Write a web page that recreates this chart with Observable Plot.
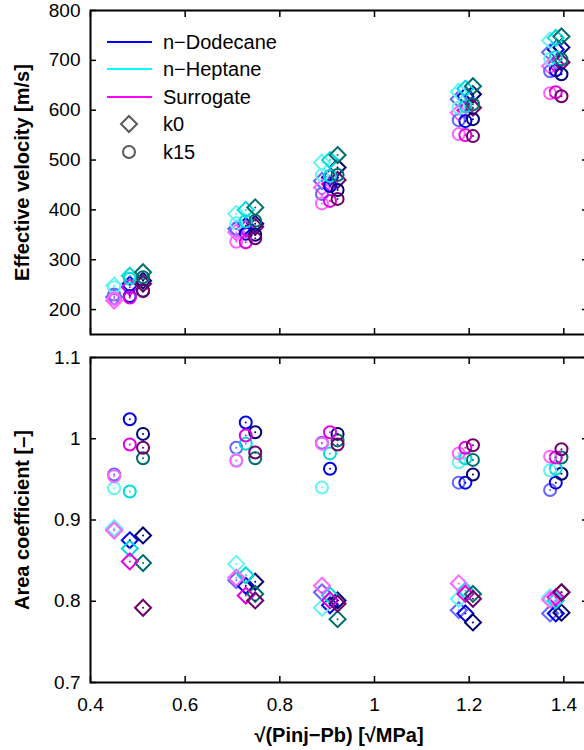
<!DOCTYPE html>
<html><head><meta charset="utf-8">
<script src="https://cdn.jsdelivr.net/npm/d3@7"></script>
<script src="https://cdn.jsdelivr.net/npm/@observablehq/plot@0.6"></script>
<style>
body{margin:0;background:#fff;}
#wrap{position:relative;width:584px;height:750px;overflow:hidden;font-family:"Liberation Sans",Arial,sans-serif;background:#fff;}
#wrap svg{overflow:visible;}
g[aria-label="y-axis label"] text, g[aria-label="x-axis label"] text{font-weight:bold;font-size:20px;}
#legend{position:absolute;left:0;top:0;}
</style></head><body><div id="wrap"></div>
<script>
// ---- data ----
const fuels = ["n-Dodecane", "n-Heptane", "Surrogate"];
const legendLabels = ["n\u2212Dodecane", "n\u2212Heptane", "Surrogate"];
const legendColors = ["#0000ff", "#00ffff", "#ff00ff"];
const markerLabels = ["k0", "k15"];
// shade colours: light, mid, dark
const dodecaneShades = ["#6464ff", "#0000e8", "#000078"];
const heptaneShades = ["#64f4f4", "#00dcdc", "#006e6e"];
const surrogateShades = ["#ff64ff", "#e400e4", "#6e006e"];
// x per pressure group, per shade (light, mid, dark)
const xGroups = [
  [0.450, 0.483, 0.511],
  [0.708, 0.728, 0.748],
  [0.889, 0.906, 0.922],
  [1.178, 1.192, 1.208],
  [1.371, 1.383, 1.395]
];
// Effective velocity [m/s]; rows = shades (light, mid, dark), cols = groups
const velK0Dodecane = [[225, 362, 458, 622, 716], [250, 368, 465, 628, 722], [258, 372, 485, 632, 726]];
const velK0Heptane = [[248, 392, 495, 637, 740], [268, 400, 500, 643, 745], [275, 405, 510, 648, 748]];
const velK0Surrogate = [[218, 355, 445, 595, 688], [245, 362, 452, 600, 692], [252, 366, 460, 605, 696]];
const velK15Dodecane = [[230, 362, 432, 580, 678], [227, 352, 448, 578, 680], [238, 350, 440, 582, 672]];
const velK15Heptane = [[245, 373, 470, 605, 703], [262, 377, 468, 608, 706], [265, 378, 470, 612, 702]];
const velK15Surrogate = [[222, 336, 413, 552, 634], [224, 335, 418, 550, 636], [237, 343, 422, 548, 628]];
// Area coefficient [-]
const acK0Dodecane = [[0.889, 0.826, 0.811, 0.789, 0.785], [0.875, 0.819, 0.795, 0.785, 0.785], [0.881, 0.824, 0.801, 0.774, 0.786]];
const acK0Heptane = [[0.890, 0.846, 0.792, 0.803, 0.805], [0.865, 0.832, 0.807, 0.813, 0.801], [0.847, 0.809, 0.778, 0.809, 0.811]];
const acK0Surrogate = [[0.887, 0.829, 0.819, 0.822, 0.802], [0.849, 0.807, 0.801, 0.809, 0.805], [0.792, 0.801, 0.797, 0.803, 0.811]];
const acK15Dodecane = [[0.956, 0.989, 0.995, 0.946, 0.937], [1.024, 1.020, 0.963, 0.946, 0.946], [1.006, 1.008, 1.006, 0.956, 0.957]];
const acK15Heptane = [[0.939, 0.974, 0.940, 0.971, 0.961], [0.935, 0.994, 0.982, 0.976, 0.963], [0.976, 0.976, 0.998, 0.974, 0.977]];
const acK15Surrogate = [[0.954, 0.973, 0.994, 0.982, 0.978], [0.993, 1.004, 1.008, 0.989, 0.977], [0.989, 0.983, 0.993, 0.992, 0.987]];
// ticks
const xTicks = [0.4, 0.6, 0.8, 1, 1.2, 1.4];
const velTicks = [200, 300, 400, 500, 600, 700, 800];
const acTicks = [0.7, 0.8, 0.9, 1, 1.1];

// ---- build rows ----
const shadeSets = [dodecaneShades, heptaneShades, surrogateShades];
function rows(sets, k) {
  const out = [];
  sets.forEach((mat, f) => {
    mat.forEach((vals, s) => {
      vals.forEach((v, g) => out.push({x: xGroups[g][s], y: v, fuel: fuels[f], k, color: shadeSets[f][s]}));
    });
  });
  return out;
}
const topK0 = rows([velK0Dodecane, velK0Heptane, velK0Surrogate], "k0");
const topK15 = rows([velK15Dodecane, velK15Heptane, velK15Surrogate], "k15");
const botK0 = rows([acK0Dodecane, acK0Heptane, acK0Surrogate], "k0");
const botK15 = rows([acK15Dodecane, acK15Heptane, acK15Surrogate], "k15");

const font = "Liberation Sans, Arial, sans-serif";
const fmt = d => String(d);

function pointMarks(k0, k15) {
  return [
    Plot.dot(k0, {x: "x", y: "y", symbol: "diamond2", r: 7.2, stroke: "color", strokeWidth: 2, fill: "none"}),
    Plot.dot(k15, {x: "x", y: "y", symbol: "circle", r: 6, stroke: "color", strokeWidth: 2, fill: "none"}),
    Plot.dot(k0.concat(k15), {x: "x", y: "y", r: 1, fill: "color", stroke: null})
  ];
}

const topPlot = Plot.plot({
  width: 584, height: 345,
  marginLeft: 90, marginRight: -3, marginTop: 10, marginBottom: 11,
  style: {fontFamily: font, fontSize: "19px", color: "#000", background: "transparent", overflow: "visible"},
  x: {domain: [0.4, 1.45]},
  y: {domain: [150, 800]},
  color: {type: "identity"},
  marks: [
    ...pointMarks(topK0, topK15),
    Plot.axisY(velTicks, {anchor: "left", tickSize: -6, tickPadding: 16, strokeWidth: 1.5, tickFormat: fmt,
      label: "Effective velocity [m/s]", labelAnchor: "center", labelOffset: 76, labelArrow: "none"}),
    Plot.axisY(velTicks, {anchor: "right", tickSize: -6, strokeWidth: 1.5, tickFormat: () => "", label: null}),
    Plot.axisX(xTicks, {anchor: "bottom", tickSize: -6, strokeWidth: 1.5, tickFormat: () => "", label: null}),
    Plot.axisX(xTicks, {anchor: "top", tickSize: -6, strokeWidth: 1.5, tickFormat: () => "", label: null}),
    Plot.frame({stroke: "#000", strokeWidth: 2})
  ]
});

const botPlot = Plot.plot({
  width: 584, height: 405,
  marginLeft: 90, marginRight: -3, marginTop: 12, marginBottom: 68,
  style: {fontFamily: font, fontSize: "19px", color: "#000", background: "transparent", overflow: "visible"},
  x: {domain: [0.4, 1.45]},
  y: {domain: [0.7, 1.1]},
  color: {type: "identity"},
  marks: [
    ...pointMarks(botK0, botK15),
    Plot.axisY(acTicks, {anchor: "left", tickSize: -6, tickPadding: 16, strokeWidth: 1.5, tickFormat: fmt,
      label: "Area coefficient [\u2013]", labelAnchor: "center", labelOffset: 76, labelArrow: "none"}),
    Plot.axisY(acTicks, {anchor: "right", tickSize: -6, strokeWidth: 1.5, tickFormat: () => "", label: null}),
    Plot.axisX(xTicks, {anchor: "bottom", tickSize: -6, tickPadding: 21, strokeWidth: 1.5, tickFormat: fmt,
      label: "\u221a(Pinj\u2212Pb) [\u221aMPa]", labelAnchor: "center", labelOffset: 59, labelArrow: "none"}),
    Plot.axisX(xTicks, {anchor: "top", tickSize: -6, strokeWidth: 1.5, tickFormat: () => "", label: null}),
    Plot.frame({stroke: "#000", strokeWidth: 2})
  ]
});

const wrap = document.getElementById("wrap");
wrap.appendChild(topPlot);
wrap.appendChild(botPlot);

// ---- legend (inside top axes, no box) ----
const ns = "http://www.w3.org/2000/svg";
const leg = document.createElementNS(ns, "svg");
leg.setAttribute("id", "legend");
leg.setAttribute("width", 300);
leg.setAttribute("height", 170);
const rowY = [42, 69, 97, 124, 152];
legendLabels.forEach((lab, i) => {
  const l = document.createElementNS(ns, "line");
  l.setAttribute("x1", 107); l.setAttribute("x2", 152);
  l.setAttribute("y1", rowY[i]); l.setAttribute("y2", rowY[i]);
  l.setAttribute("stroke", legendColors[i]); l.setAttribute("stroke-width", 2);
  leg.appendChild(l);
});
const dia = document.createElementNS(ns, "path");
dia.setAttribute("d", d3.symbol(d3.symbolDiamond2, 7.2 * 7.2 * Math.PI)());
dia.setAttribute("transform", `translate(129,${rowY[3]})`);
dia.setAttribute("fill", "none"); dia.setAttribute("stroke", "#5a5a5a"); dia.setAttribute("stroke-width", 2);
leg.appendChild(dia);
const cir = document.createElementNS(ns, "circle");
cir.setAttribute("cx", 129); cir.setAttribute("cy", rowY[4]); cir.setAttribute("r", 6);
cir.setAttribute("fill", "none"); cir.setAttribute("stroke", "#5a5a5a"); cir.setAttribute("stroke-width", 2);
leg.appendChild(cir);
legendLabels.concat(markerLabels).forEach((lab, i) => {
  const t = document.createElementNS(ns, "text");
  t.setAttribute("x", 163); t.setAttribute("y", rowY[i]);
  t.setAttribute("dy", "0.35em");
  t.setAttribute("font-family", font); t.setAttribute("font-size", 20);
  t.textContent = lab;
  leg.appendChild(t);
});
wrap.appendChild(leg);
</script>
</body></html>
